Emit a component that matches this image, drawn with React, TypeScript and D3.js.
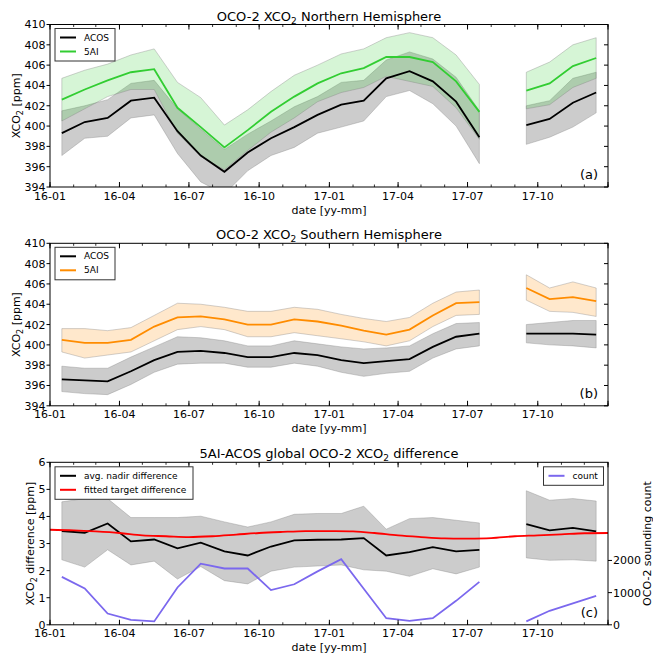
import React from "react";
import * as d3 from "d3";

// monthly values, one per month; null = no data (Aug 2017)
const months = [
  "2016-01", "2016-02", "2016-03", "2016-04", "2016-05", "2016-06",
  "2016-07", "2016-08", "2016-09", "2016-10", "2016-11", "2016-12",
  "2017-01", "2017-02", "2017-03", "2017-04", "2017-05", "2017-06",
  "2017-07", "2017-08", "2017-09", "2017-10", "2017-11", "2017-12",
];

type V = number | null;

// (a) northern hemisphere
const nhAcos: V[] = [399.3, 400.4, 400.8, 402.5, 402.8, 399.5, 397.1, 395.5, 397.4, 398.8, 399.9, 401.1, 402.1, 402.5, 404.7, 405.4, 404.4, 402.4, 398.9, null, 400.1, 400.7, 402.3, 403.3];
const nhAcosHi: V[] = [401.5, 402.0, 402.6, 404.2, 404.5, 401.7, 399.7, 397.7, 399.2, 400.5, 401.9, 402.9, 404.3, 404.5, 406.5, 407.3, 406.6, 404.8, 401.5, null, 402.0, 402.5, 404.7, 405.3];
const nhAcosLo: V[] = [397.1, 398.8, 399.0, 400.8, 401.1, 397.3, 394.5, 393.3, 395.6, 397.1, 397.9, 399.3, 399.9, 400.5, 402.9, 403.5, 402.2, 400.0, 396.3, null, 398.2, 398.9, 399.9, 401.3];
const nh5ai: V[] = [402.6, 403.6, 404.5, 405.3, 405.6, 401.8, 399.9, 397.9, 399.6, 401.4, 402.9, 404.2, 405.2, 405.7, 406.8, 406.8, 406.3, 404.4, 401.4, null, 403.5, 404.2, 405.9, 406.7];
const nh5aiHi: V[] = [404.7, 405.5, 406.1, 407.0, 407.6, 404.3, 402.8, 400.1, 401.6, 403.4, 405.0, 406.0, 407.1, 407.6, 408.7, 409.2, 408.7, 407.0, 404.1, null, 405.3, 406.3, 408.0, 408.7];
const nh5aiLo: V[] = [400.5, 401.7, 402.9, 403.6, 403.6, 399.3, 397.0, 395.7, 397.6, 399.4, 400.8, 402.4, 403.3, 403.8, 404.9, 404.4, 403.9, 401.8, 398.7, null, 401.7, 402.1, 403.8, 404.7];

// (b) southern hemisphere
const shAcos: V[] = [396.6, 396.5, 396.4, 397.4, 398.5, 399.3, 399.4, 399.2, 398.8, 398.8, 399.2, 399.0, 398.5, 398.2, 398.4, 398.6, 399.8, 400.8, 401.1, null, 401.1, 401.1, 401.1, 401.0];
const shAcosHi: V[] = [397.9, 397.7, 397.7, 398.8, 399.8, 400.8, 400.7, 400.4, 399.9, 399.9, 400.4, 400.1, 399.8, 399.6, 399.7, 399.9, 401.1, 402.1, 402.2, null, 402.0, 402.2, 402.4, 402.4];
const shAcosLo: V[] = [395.4, 395.2, 395.1, 396.1, 397.3, 398.1, 398.2, 398.2, 397.8, 397.8, 398.2, 397.9, 397.3, 396.9, 397.2, 397.4, 398.7, 399.6, 399.9, null, 400.2, 400.0, 399.9, 399.7];
const sh5ai: V[] = [400.5, 400.2, 400.2, 400.5, 401.8, 402.7, 402.8, 402.5, 402.0, 402.0, 402.5, 402.3, 401.9, 401.4, 401.0, 401.5, 402.9, 404.1, 404.2, null, 405.6, 404.5, 404.7, 404.3];
const sh5aiHi: V[] = [401.6, 401.6, 401.4, 401.7, 402.9, 404.1, 404.0, 403.7, 403.3, 403.3, 403.7, 403.5, 403.0, 402.6, 402.3, 402.7, 404.1, 405.2, 405.4, null, 406.9, 405.6, 406.2, 405.6];
const sh5aiLo: V[] = [399.3, 398.7, 399.0, 399.3, 400.4, 401.5, 401.8, 401.5, 400.8, 400.8, 401.2, 400.9, 400.6, 400.3, 399.9, 400.4, 401.8, 402.9, 403.0, null, 404.4, 403.3, 403.2, 402.8];

// (c) global difference + sounding count
const diff: V[] = [3.46, 3.40, 3.74, 3.08, 3.15, 2.82, 3.03, 2.71, 2.56, 2.89, 3.12, 3.14, 3.15, 3.20, 2.56, 2.68, 2.87, 2.71, 2.77, null, 3.72, 3.49, 3.58, 3.45];
const diffHi: V[] = [4.54, 4.66, 4.66, 3.96, 3.96, 3.96, 4.01, 3.80, 3.61, 3.80, 4.08, 4.11, 4.11, 4.38, 3.53, 3.92, 3.96, 3.86, 3.76, null, 4.95, 4.60, 4.66, 4.57];
const diffLo: V[] = [2.40, 2.13, 2.77, 2.21, 2.35, 1.69, 2.15, 1.63, 1.51, 1.98, 2.13, 2.17, 2.21, 2.03, 1.98, 1.79, 2.07, 1.88, 2.13, null, 2.47, 2.38, 2.40, 2.35];
const counts: V[] = [1490, 1130, 350, 155, 105, 1160, 1900, 1750, 1750, 1080, 1260, 1660, 2040, 1120, 205, 125, 205, 745, 1335, null, 105, 435, 665, 900];

// fitted target difference, sampled at month starts
const fitMonths = [...months, "2018-01"];
const fitted = [3.51, 3.49, 3.45, 3.39, 3.30, 3.27, 3.24, 3.27, 3.33, 3.39, 3.43, 3.46, 3.46, 3.45, 3.39, 3.30, 3.24, 3.19, 3.18, 3.20, 3.27, 3.30, 3.34, 3.38, 3.39];

const ppmTicks = [394, 396, 398, 400, 402, 404, 406, 408, 410];
const diffTicks = [0, 1, 2, 3, 4, 5, 6];
const countTicks = [0, 1000, 2000];

const font = "'DejaVu Sans', sans-serif";
const left = 50, right = 608, panelH = 162.5;
const tops = [24.5, 243.3, 462.3];

const GREEN = "#32cd32", ORANGE = "#ff8c00", BLUE = "#7b68ee";

const parseMonth = d3.utcParse("%Y-%m");
const start = parseMonth("2016-01")!, end = parseMonth("2018-01")!;
const x = d3.scaleUtc().domain([start, end]).range([left, right]);
const mid = (m: string) => {
  const s = parseMonth(m)!;
  return new Date((+s + +d3.utcMonth.offset(s, 1)) / 2);
};
const fmt = d3.utcFormat("%y-%m");
const majorTicks = x.ticks(d3.utcMonth.every(3)!);
const minorTicks = x.ticks(d3.utcMonth.every(1)!);

const yA = d3.scaleLinear().domain([394, 410]).range([tops[0] + panelH, tops[0]]);
const yB = d3.scaleLinear().domain([394, 410]).range([tops[1] + panelH, tops[1]]);
const yC = d3.scaleLinear().domain([0, 6]).range([tops[2] + panelH, tops[2]]);
const yN = d3.scaleLinear().domain([0, 5050]).range([tops[2] + panelH, tops[2]]);

const idx = d3.range(months.length);

function band(lo: V[], hi: V[], y: d3.ScaleLinear<number, number>) {
  return d3.area<number>()
    .defined((i) => lo[i] != null && hi[i] != null)
    .x((i) => x(mid(months[i])))
    .y0((i) => y(lo[i] as number))
    .y1((i) => y(hi[i] as number))(idx) || "";
}

function line(v: V[], y: d3.ScaleLinear<number, number>) {
  return d3.line<number>()
    .defined((i) => v[i] != null)
    .x((i) => x(mid(months[i])))
    .y((i) => y(v[i] as number))(idx) || "";
}

function Xco2({ pre, post, sub }: { pre: string; post: string; sub: number }) {
  return (
    <>
      <tspan>{pre + "XCO"}</tspan>
      <tspan fontSize={sub} dy={sub * 0.35}>2</tspan>
      <tspan dy={-sub * 0.35}>{post}</tspan>
    </>
  );
}

interface FrameProps {
  id: string;
  top: number;
  y: d3.ScaleLinear<number, number>;
  yTicks: number[];
  title: React.ReactNode;
  yLabel: React.ReactNode;
  yLabelX: number;
  tag: string;
  innerRightTicks: boolean;
  children: React.ReactNode;
}

function Frame({ id, top, y, yTicks, title, yLabel, yLabelX, tag, innerRightTicks, children }: FrameProps) {
  const bottom = top + panelH;
  return (
    <g>
      <clipPath id={id}>
        <rect x={left} y={top} width={right - left} height={panelH} />
      </clipPath>
      <g clipPath={`url(#${id})`}>{children}</g>
      <rect x={left} y={top} width={right - left} height={panelH} fill="none" stroke="black" strokeWidth={1} />
      {minorTicks.map((t, i) => (
        <g key={"mn" + i} stroke="black" strokeWidth={0.8}>
          <line x1={x(t)} x2={x(t)} y1={bottom} y2={bottom - 2.5} />
          <line x1={x(t)} x2={x(t)} y1={top} y2={top + 2.5} />
        </g>
      ))}
      {majorTicks.map((t, i) => (
        <g key={"mj" + i}>
          <line x1={x(t)} x2={x(t)} y1={bottom} y2={bottom - 5} stroke="black" />
          <line x1={x(t)} x2={x(t)} y1={top} y2={top + 5} stroke="black" />
          {+t < +end && (
            <text x={x(t)} y={bottom + 12.5} textAnchor="middle" fontSize={11}>{fmt(t)}</text>
          )}
        </g>
      ))}
      {yTicks.map((v) => (
        <g key={"y" + v}>
          <line x1={left - 3.5} x2={left} y1={y(v)} y2={y(v)} stroke="black" />
          {innerRightTicks && <line x1={right - 4} x2={right} y1={y(v)} y2={y(v)} stroke="black" />}
          <text x={left - 4.5} y={y(v)} dy="0.36em" textAnchor="end" fontSize={11}>{v}</text>
        </g>
      ))}
      <text x={(left + right) / 2} y={top - 4} textAnchor="middle" fontSize={13} style={{ whiteSpace: "pre" }}>{title}</text>
      <text x={(left + right) / 2} y={bottom + 26.5} textAnchor="middle" fontSize={11}>date [yy-mm]</text>
      <text transform={`translate(${yLabelX},${(top + bottom) / 2}) rotate(-90)`} textAnchor="middle" dy="0.35em" fontSize={11} style={{ whiteSpace: "pre" }}>{yLabel}</text>
      <text x={598} y={bottom - 8} textAnchor="end" fontSize={13}>{tag}</text>
    </g>
  );
}

function Legend({ x0, y0, w, items }: { x0: number; y0: number; w: number; items: { label: string; color: string }[] }) {
  const rowH = 14;
  const h = items.length * rowH + 4.5;
  return (
    <g>
      <rect x={x0} y={y0} width={w} height={h} fill="white" stroke="#333" strokeWidth={1} />
      {items.map((it, i) => {
        const yy = y0 + 9 + i * rowH;
        return (
          <g key={it.label}>
            <line x1={x0 + 5} x2={x0 + 21} y1={yy} y2={yy} stroke={it.color} strokeWidth={2} />
            <text x={x0 + 29} y={yy} dy="0.35em" fontSize={9}>{it.label}</text>
          </g>
        );
      })}
    </g>
  );
}

const bandEdge = { stroke: "#808080", strokeOpacity: 0.45, strokeWidth: 0.8 };

export default function App() {
  const fitLine = d3.line<number>()
    .x((i) => x(parseMonth(fitMonths[i])!))
    .y((i) => yC(fitted[i]))
    .curve(d3.curveCatmullRom)(d3.range(fitMonths.length)) || "";

  return (
    <svg width={653} height={654} style={{ position: "absolute", left: 0, top: 0, background: "white" }} fontFamily={font}>
      {/* (a) */}
      <Frame id="ca" top={tops[0]} y={yA} yTicks={ppmTicks}
        title={<Xco2 pre="OCO-2 " post=" Northern Hemisphere" sub={9} />}
        yLabel={<Xco2 pre="" post=" [ppm]" sub={8} />} yLabelX={16} tag="(a)" innerRightTicks>
        <path d={band(nhAcosLo, nhAcosHi, yA)} fill="black" fillOpacity={0.2} {...bandEdge} />
        <path d={band(nh5aiLo, nh5aiHi, yA)} fill={GREEN} fillOpacity={0.2} {...bandEdge} />
        <path d={line(nhAcos, yA)} fill="none" stroke="black" strokeWidth={1.8} />
        <path d={line(nh5ai, yA)} fill="none" stroke={GREEN} strokeWidth={1.8} />
      </Frame>
      <Legend x0={55} y0={28.5} w={60} items={[{ label: "ACOS", color: "black" }, { label: "5AI", color: GREEN }]} />

      {/* (b) */}
      <Frame id="cb" top={tops[1]} y={yB} yTicks={ppmTicks}
        title={<Xco2 pre="OCO-2 " post=" Southern Hemisphere" sub={9} />}
        yLabel={<Xco2 pre="" post=" [ppm]" sub={8} />} yLabelX={16} tag="(b)" innerRightTicks>
        <path d={band(shAcosLo, shAcosHi, yB)} fill="black" fillOpacity={0.2} {...bandEdge} />
        <path d={band(sh5aiLo, sh5aiHi, yB)} fill={ORANGE} fillOpacity={0.2} {...bandEdge} />
        <path d={line(shAcos, yB)} fill="none" stroke="black" strokeWidth={1.8} />
        <path d={line(sh5ai, yB)} fill="none" stroke={ORANGE} strokeWidth={1.8} />
      </Frame>
      <Legend x0={55} y0={tops[1] + 4} w={60} items={[{ label: "ACOS", color: "black" }, { label: "5AI", color: ORANGE }]} />

      {/* (c) */}
      <Frame id="cc" top={tops[2]} y={yC} yTicks={diffTicks}
        title={<Xco2 pre="5AI-ACOS global OCO-2 " post=" difference" sub={9} />}
        yLabel={<Xco2 pre="" post=" difference [ppm]" sub={8} />} yLabelX={30.5} tag="(c)" innerRightTicks={false}>
        <path d={band(diffLo, diffHi, yC)} fill="black" fillOpacity={0.2} {...bandEdge} />
        <path d={line(diff, yC)} fill="none" stroke="black" strokeWidth={1.8} />
        <path d={fitLine} fill="none" stroke="red" strokeWidth={1.8} />
        <path d={line(counts, yN)} fill="none" stroke={BLUE} strokeWidth={1.8} />
      </Frame>
      {countTicks.map((v) => (
        <g key={"n" + v}>
          <line x1={right} x2={right + 4} y1={yN(v)} y2={yN(v)} stroke="black" />
          <text x={right + 5} y={yN(v)} dy="0.36em" fontSize={11}>{v}</text>
        </g>
      ))}
      <text transform={`translate(647,${tops[2] + panelH / 2}) rotate(-90)`} textAnchor="middle" dy="0.35em" fontSize={11}>OCO-2 sounding count</text>
      <Legend x0={55} y0={tops[2] + 4.5} w={138} items={[{ label: "avg. nadir difference", color: "black" }, { label: "fitted target difference", color: "red" }]} />
      <Legend x0={543.5} y0={tops[2] + 4.5} w={60} items={[{ label: "count", color: BLUE }]} />
    </svg>
  );
}
